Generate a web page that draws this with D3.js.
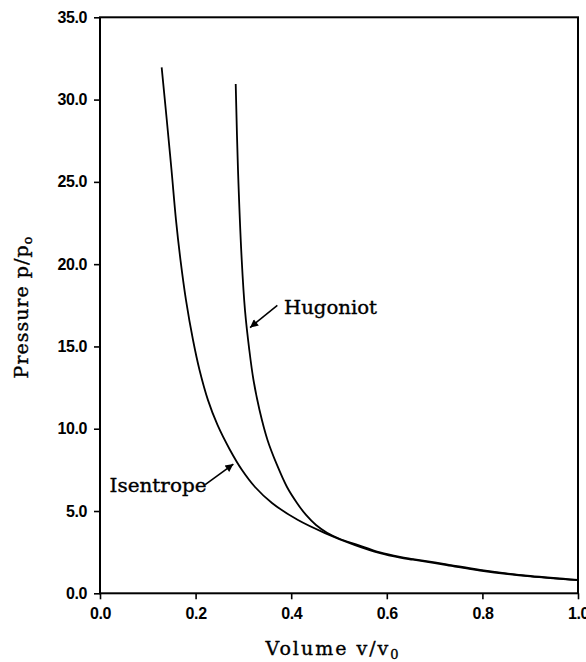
<!DOCTYPE html>
<html>
<head>
<meta charset="utf-8">
<script src="https://cdn.jsdelivr.net/npm/d3@7"></script>
<style>
  html, body { margin: 0; padding: 0; background: #fff; }
  svg { display: block; }
</style>
</head>
<body>
<svg id="chart" width="586" height="662"></svg>
<script>
// ---- data ----
const xTicks = [0.0, 0.2, 0.4, 0.6, 0.8, 1.0];
const yTicks = [0, 5, 10, 15, 20, 25, 30, 35];

const isentropeV = [0.1290, 0.1397, 0.1496, 0.1590, 0.1684, 0.1799, 0.1946, 0.2082, 0.2259, 0.2458, 0.2720, 0.2971, 0.3243, 0.3598, 0.4142, 0.4707, 0.5335, 0.5858, 0.6276, 0.655, 0.725, 0.795, 0.900, 1.000];
const isentropeP = [31.96, 28.76, 25.72, 22.68, 20.25, 17.82, 15.39, 13.57, 11.74, 10.23, 8.71, 7.49, 6.46, 5.49, 4.45, 3.66, 2.93, 2.44, 2.17, 2.04, 1.72, 1.385, 1.03, 0.80];

const hugoniotV = [0.2839, 0.2887, 0.2965, 0.3033, 0.3124, 0.3211, 0.3337, 0.3504, 0.3703, 0.3912, 0.4121, 0.4310, 0.4519, 0.4749, 0.5021, 0.5356, 0.5858, 0.6276, 0.655, 0.725, 0.795, 0.900, 1.000];
const hugoniotP = [30.95, 25.72, 20.25, 17.21, 14.78, 12.96, 11.14, 9.32, 7.80, 6.46, 5.49, 4.76, 4.15, 3.68, 3.30, 2.97, 2.48, 2.21, 2.08, 1.76, 1.42, 1.05, 0.81];

const isentrope = isentropeV.map((v, i) => ({ v, p: isentropeP[i] }));
const hugoniot = hugoniotV.map((v, i) => ({ v, p: hugoniotP[i] }));

// ---- layout ----
const svg = d3.select("#chart");
const L = 100, R = 578, T = 17.3, B = 593.3;

const x = d3.scaleLinear().domain([0, 1]).range([L, R]);
const y = d3.scaleLinear().domain([0, 35]).range([B, T]);

const tickFont = "'Liberation Sans', Arial, sans-serif";
const serif = "'DejaVu Serif', serif";

// axes
const gx = svg.append("g").attr("transform", `translate(0,${B})`)
  .call(d3.axisBottom(x).tickValues(xTicks).tickFormat(d3.format(".1f")).tickSize(6).tickPadding(8.5));
const gy = svg.append("g").attr("transform", `translate(${L},0)`)
  .call(d3.axisLeft(y).tickValues(yTicks).tickFormat(d3.format(".1f")).tickSize(6).tickPadding(7));

[gx, gy].forEach(g => {
  g.select(".domain").remove();
  g.selectAll(".tick line").attr("stroke", "#000").attr("stroke-width", 1.6);
  g.selectAll(".tick text")
    .attr("fill", "#000")
    .style("font-family", tickFont)
    .style("font-weight", "bold")
    .style("font-size", "16px")
    .style("letter-spacing", "-0.4px");
});

// frame
svg.append("rect")
  .attr("x", L).attr("y", T)
  .attr("width", R - L).attr("height", B - T)
  .attr("fill", "none").attr("stroke", "#000").attr("stroke-width", 2);

// curves
const line = d3.line().x(d => x(d.v)).y(d => y(d.p)).curve(d3.curveCatmullRom.alpha(0.5));
svg.append("path").datum(isentrope).attr("d", line)
  .attr("fill", "none").attr("stroke", "#000").attr("stroke-width", 1.8);
svg.append("path").datum(hugoniot).attr("d", line)
  .attr("fill", "none").attr("stroke", "#000").attr("stroke-width", 1.8);

// arrow marker
svg.append("defs").append("marker")
  .attr("id", "arrow").attr("viewBox", "0 0 10 10")
  .attr("refX", 10).attr("refY", 5)
  .attr("markerWidth", 11).attr("markerHeight", 8)
  .attr("markerUnits", "userSpaceOnUse")
  .attr("orient", "auto")
  .append("path").attr("d", "M0,0 L10,5 L0,10 Z").attr("fill", "#000");

// annotations (anchored on data coordinates)
const annHug = { tx: 0.385, tp: 17.0, fromV: 0.371, fromP: 17.5, toV: 0.314, toP: 16.15 };
const annIse = { tx: 0.020, tp: 6.15, fromV: 0.220, fromP: 6.6, toV: 0.279, toP: 7.85 };

svg.append("line")
  .attr("x1", x(annHug.fromV)).attr("y1", y(annHug.fromP))
  .attr("x2", x(annHug.toV)).attr("y2", y(annHug.toP))
  .attr("stroke", "#000").attr("stroke-width", 1.6).attr("marker-end", "url(#arrow)");
svg.append("line")
  .attr("x1", x(annIse.fromV)).attr("y1", y(annIse.fromP))
  .attr("x2", x(annIse.toV)).attr("y2", y(annIse.toP))
  .attr("stroke", "#000").attr("stroke-width", 1.6).attr("marker-end", "url(#arrow)");

const labelStyle = sel => sel.style("font-family", serif).style("font-size", "19px")
  .attr("fill", "#000").attr("stroke", "#000").attr("stroke-width", 0.35);

svg.append("text").attr("x", x(annHug.tx)).attr("y", y(annHug.tp))
  .call(labelStyle)
  .attr("textLength", 93).attr("lengthAdjust", "spacingAndGlyphs")
  .text("Hugoniot");
svg.append("text").attr("x", x(annIse.tx)).attr("y", y(annIse.tp))
  .call(labelStyle)
  .attr("textLength", 97).attr("lengthAdjust", "spacingAndGlyphs")
  .text("Isentrope");

// axis titles
const xt = svg.append("text").attr("x", 333).attr("y", 655)
  .attr("text-anchor", "middle")
  .call(labelStyle).style("letter-spacing", "2px");
xt.append("tspan").text("Volume v/v");
xt.append("tspan").attr("dy", 4).style("font-size", "13px").text("0");

const yt = svg.append("text")
  .attr("transform", "translate(28,307) rotate(-90)")
  .attr("text-anchor", "middle")
  .call(labelStyle).style("letter-spacing", "1px");
yt.append("tspan").text("Pressure p/p");
yt.append("tspan").attr("dy", 4).style("font-size", "13px").text("o");
</script>
</body>
</html>
